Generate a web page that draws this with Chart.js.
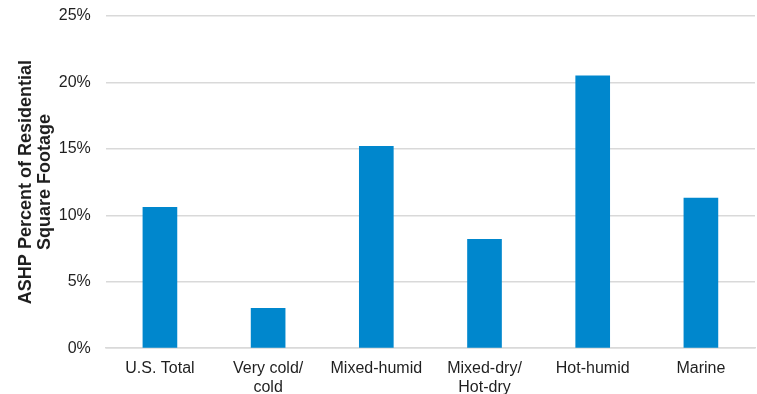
<!DOCTYPE html>
<html>
<head>
<meta charset="utf-8">
<script src="https://cdn.jsdelivr.net/npm/chart.js@4/dist/chart.umd.min.js"></script>
<style>
  html, body { margin: 0; padding: 0; background: #ffffff; }
  #wrap { width: 757px; height: 394px; }
</style>
</head>
<body>
<div id="wrap"><canvas id="c" width="757" height="394"></canvas></div>
<script>
// Climate regions and their ASHP share of residential square footage (%)
const categories = [["U.S. Total"], ["Very cold/", "cold"], ["Mixed-humid"], ["Mixed-dry/", "Hot-dry"], ["Hot-humid"], ["Marine"]];
const ashpShare = [10.6, 3.0, 15.2, 8.2, 20.5, 11.3];
const yTicks = [0, 5, 10, 15, 20, 25];
const yTitle = ["ASHP Percent of Residential", "Square Footage"];

const FONT = "'Liberation Sans', Arial, sans-serif";
const TEXT = '#1f1f1f';

new Chart(document.getElementById('c'), {
  type: 'bar',
  data: {
    labels: categories,
    datasets: [{
      data: ashpShare,
      backgroundColor: '#0087cd',
      borderWidth: 0,
      barThickness: 34
    }]
  },
  options: {
    responsive: false,
    animation: false,
    layout: { padding: { left: 8, right: 2, top: 0, bottom: -14 } },
    plugins: {
      legend: { display: false },
      tooltip: { enabled: false }
    },
    scales: {
      x: {
        grid: { display: false, drawTicks: false },
        border: { display: true, color: '#d9d9d9', width: 1.5 },
        ticks: {
          color: TEXT,
          font: { family: FONT, size: 16, lineHeight: 1.15 },
          padding: 11.5,
          maxRotation: 0,
          autoSkip: false
        }
      },
      y: {
        min: 0,
        max: 25,
        afterBuildTicks: (axis) => { axis.ticks = yTicks.map(v => ({ value: v })); },
        // room above the top tick label
        afterFit: (axis) => { axis.paddingTop = 16; axis.paddingBottom = 10; },
        grid: { color: '#d9d9d9', lineWidth: 1.5, drawTicks: false },
        border: { display: false },
        ticks: {
          color: TEXT,
          font: { family: FONT, size: 16 },
          padding: 15,
          callback: (v) => v + '%'
        },
        title: {
          display: true,
          text: yTitle,
          color: TEXT,
          font: { family: FONT, size: 18, weight: 'bold', lineHeight: 1.05 },
          padding: { top: 8.5, bottom: -10.5 }
        }
      }
    }
  }
});
</script>
</body>
</html>
